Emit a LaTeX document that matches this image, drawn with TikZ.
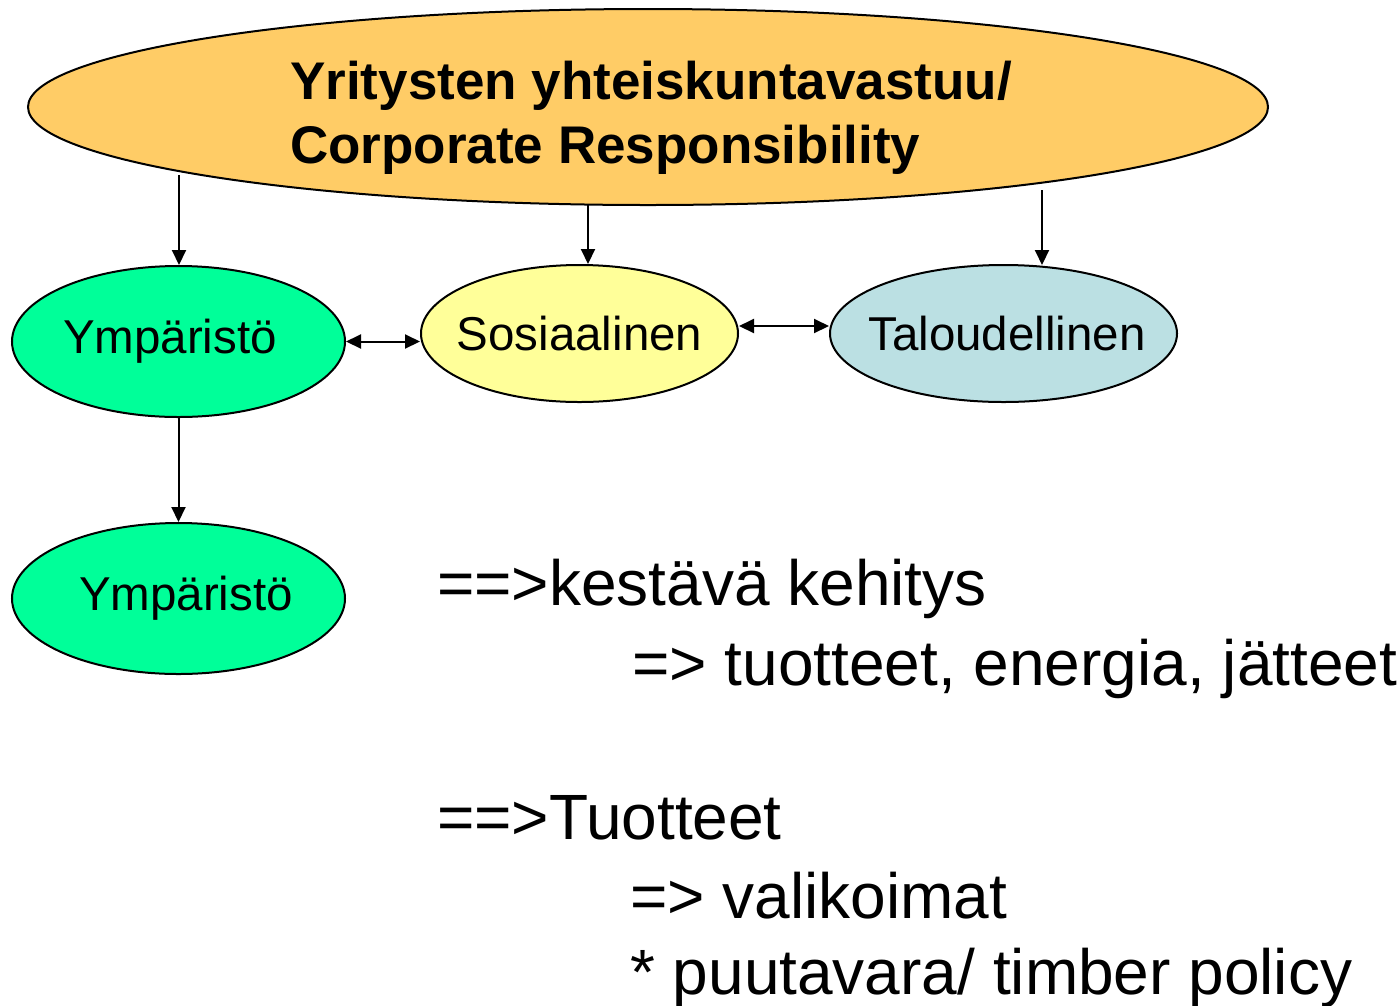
\documentclass[tikz,border=0pt]{standalone}
\usepackage{fontspec}
\setmainfont{Liberation Sans}
\usetikzlibrary{shapes.geometric,arrows.meta}
\definecolor{topfill}{HTML}{FFCC66}
\definecolor{envfill}{HTML}{00FF99}
\definecolor{socfill}{HTML}{FFFF99}
\definecolor{ecofill}{HTML}{BBE0E3}
\newcommand{\zb}[2][0pt]{\makebox[0pt]{\hspace*{#1}#2}}
\begin{document}
\begin{tikzpicture}[x=1pt,y=-1pt,
  oval/.style={ellipse,draw=black,line width=2pt,inner sep=0pt},
  nodefont/.style={font=\fontsize{47.5}{57}\selectfont},
  bigtext/.style={anchor=base west,inner sep=0pt,font=\fontsize{64}{75}\selectfont},
  titletext/.style={anchor=base west,inner sep=0pt,font=\fontsize{53}{62}\selectfont\bfseries},
  conn/.style={line width=2pt,-{Triangle[length=15pt,width=14pt]}},
  dconn/.style={line width=2pt,{Triangle[length=15pt,width=14pt]}-{Triangle[length=15pt,width=14pt]}}]
\useasboundingbox[fill=white] (0,0) rectangle (1399,1005);

\node[oval,fill=topfill,minimum width=1240pt,minimum height=196pt] (top) at (648,107) {};
\node[titletext] (title1) at (290,99) {Yritysten yhteiskuntavastuu/};
\node[titletext] (title2) at (290,163) {Corporate Responsibility};

\node[oval,nodefont,fill=envfill,minimum width=333pt,minimum height=151pt] (env) at (178.5,341.5) {\zb[-17pt]{Ympäristö}};
\node[oval,nodefont,fill=socfill,minimum width=317pt,minimum height=137pt] (soc) at (579.5,333.5) {\zb{Sosiaalinen}};
\node[oval,nodefont,fill=ecofill,minimum width=347pt,minimum height=137pt] (eco) at (1003.5,333.5) {\zb[7pt]{Taloudellinen}};
\node[oval,nodefont,fill=envfill,minimum width=333pt,minimum height=151pt] (env2) at (178.5,598.5) {\zb[15pt]{Ympäristö}};

\coordinate (s1) at (179,175);
\coordinate (s2) at (588,205);
\coordinate (s3) at (1042,190);
\draw[conn] (s1) -- (s1 |- env.north);
\draw[conn] (s2) -- (s2 |- soc.north);
\draw[conn] (s3) -- ([yshift=-1pt]s3 |- eco.north);
\draw[dconn] (env.east) -- (env.east -| soc.west);
\draw[dconn] ([yshift=7.5pt]soc.east) -- ([yshift=7.5pt]eco.west);
\draw[conn] (env.south) -- (env2.north);

\node[bigtext] (t1) at (437,605) {==>kestävä kehitys};
\node[bigtext] (t2) at (632,685) {=> tuotteet, energia, jätteet};
\node[bigtext] (t3) at (437,839) {==>Tuotteet};
\node[bigtext] (t4) at (630,918) {=> valikoimat};
\node[bigtext] (t5) at (630,994) {* puutavara/ timber policy};
\end{tikzpicture}
\end{document}
